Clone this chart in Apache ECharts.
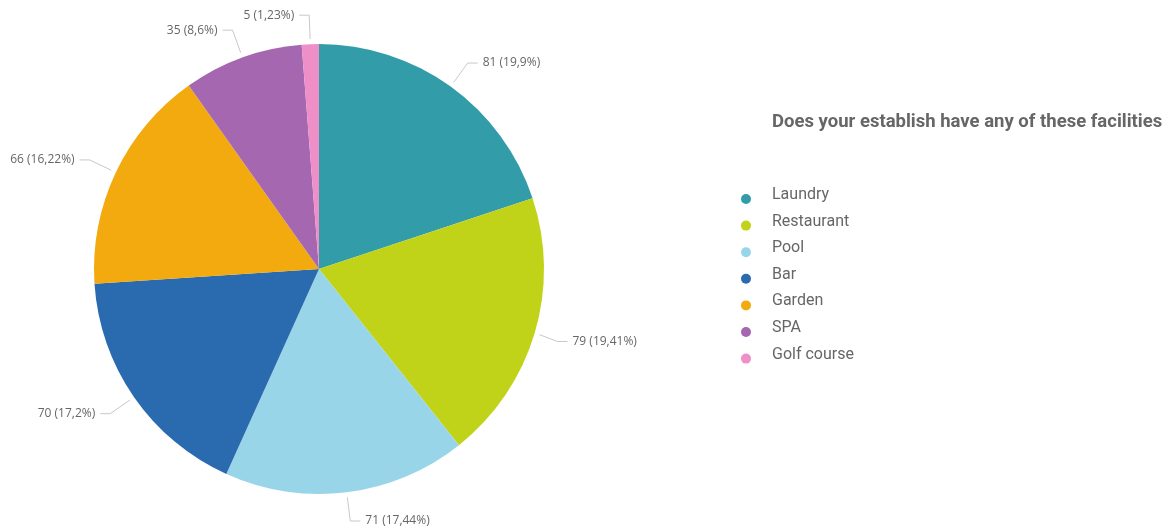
<!DOCTYPE html>
<html>
<head>
<meta charset="utf-8">
<script src="https://cdn.jsdelivr.net/npm/echarts@6/dist/echarts.min.js"></script>
<style>
  html, body { margin: 0; padding: 0; background: #fff; }
  #chart { width: 1170px; height: 528px; }
</style>
</head>
<body>
<div id="chart"></div>
<script>
// Facilities offered by establishments (number of answers)
const categories = ['Laundry', 'Restaurant', 'Pool', 'Bar', 'Garden', 'SPA', 'Golf course'];
const counts = [81, 79, 71, 70, 66, 35, 5];
const colors = ['#339ca9', '#c1d318', '#99d5e9', '#2a6aae', '#f2aa0f', '#a467b0', '#ee8fc8'];
const titleText = 'Does your establish have any of these facilities';

const pieData = categories.map((name, i) => ({ name: name, value: counts[i] }));
const center = [319, 269];

// "81 (19,9%)" style label with a decimal comma
function labelText(p) {
  const pct = String(parseFloat(p.percent.toFixed(2))).replace('.', ',');
  return p.value + ' (' + pct + '%)';
}

const chart = echarts.init(document.getElementById('chart'));
chart.setOption({
  animation: false,
  color: colors,
  title: {
    text: titleText,
    left: 767,
    top: 108,
    textStyle: { fontFamily: 'Roboto', fontSize: 18.5, fontWeight: 'bold', color: '#666' }
  },
  legend: {
    orient: 'vertical',
    left: 736,
    top: 182,
    icon: 'circle',
    itemWidth: 10,
    itemHeight: 10,
    itemGap: 2.6,
    data: categories,
    selectedMode: false,
    formatter: '{t|{name}}',
    textStyle: {
      rich: {
        t: {
          fontFamily: 'Roboto',
          fontSize: 16,
          color: '#666',
          lineHeight: 17,
          padding: [0, 0, 8, 16]
        }
      }
    }
  },
  series: [
    {
      // the slices
      type: 'pie',
      center: center,
      radius: 225,
      startAngle: 90,
      clockwise: true,
      silent: true,
      label: { show: false },
      labelLine: { show: false },
      data: pieData
    },
    {
      // transparent ring slightly outside carrying the value labels
      type: 'pie',
      center: center,
      radius: 230,
      startAngle: 90,
      clockwise: true,
      silent: true,
      itemStyle: { color: 'rgba(0,0,0,0)' },
      label: {
        show: true,
        position: 'outside',
        formatter: labelText,
        fontFamily: 'Open Sans',
        fontSize: 12,
        color: '#666'
      },
      labelLine: {
        show: true,
        length: 24,
        length2: 10,
        smooth: false,
        lineStyle: { color: '#c8c8c8', width: 1 }
      },
      data: pieData
    }
  ]
});
</script>
</body>
</html>
